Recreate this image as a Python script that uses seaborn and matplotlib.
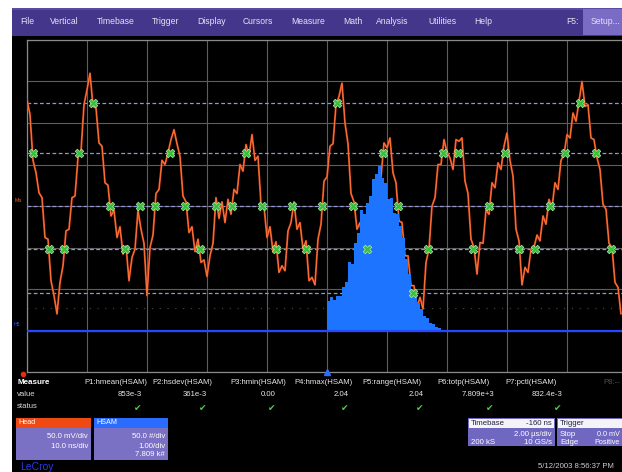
import numpy as np
import pandas as pd
import matplotlib
matplotlib.use("Agg")
import matplotlib.pyplot as plt
from matplotlib.patches import Rectangle
import seaborn as sns

# ---------------- data ----------------
# Trace "Head": samples every 0.1 us starting at -10 us (50 mV/div)
trace_mv = [
    128, 110, 55, 40, 16, 10, -38, -40, -90, -108,
    -130, -92, -72, -30, -28, 10, 12, 58, 66, 122,
    140, 160, 120, 118, 76, 72, 28, 25, -12, -5,
    -38, -25, -58, -48, -90, -62, -52, -5, -28, -45,
    -108, -50, -35, 15, 20, 55, 50, 64, 80, 92,
    75, 60, 12, 5, -32, -25, -55, -40, -68, -65,
    -85, -60, -45, 10, -15, 5, -20, 8, -10, 20,
    15, 50, 42, 74, 60, 86, 55, 60, 2, 0,
    -38, -25, -55, -43, -80, -72, -78, -30, -20, 5,
    -28, -20, -52, -42, -90, -86, -95, -40, -22, 30,
    35, 72, 75, 122, 132, 148, 100, 75, 15, 5,
    -28, -20, -50, -42, -66, -55, -30, 28, 35, 76,
    70, 82, 40, 28, -18, -20, -60, -60, -96, -96,
    -122, -110, -124, -68, -52, 0, 10, 50, 50, 80,
    65, 58, 44, 80, 78, 82, 30, 15, -40, -50,
    -82, -44, -45, -5, -10, 28, 22, 52, 44, 72,
    88, 55, 36, -28, -42, -95, -74, -80, -52, -50,
    -35, -42, -12, -22, 8, -2, 28, 20, 55, 62,
    86, 82, 112, 102, 126, 150, 120, 122, 82, 80,
    58, 44, 2, -4, -45, -50, -92, -98, -130,
]
trace_t0_us = -10.0
trace_dt_us = 0.1

# level-crossing markers (time us, level mV)
mark_t = [-9.8, -9.27, -8.77, -8.27, -7.8, -7.23, -6.73, -6.23, -5.73, -5.23,
          -4.73, -4.23, -3.7, -3.17, -2.7, -2.17, -1.7, -1.17, -0.7, -0.17,
          0.33, 0.87, 1.33, 1.87, 2.37, 2.87, 3.37, 3.87, 4.37, 4.87,
          5.4, 5.93, 6.4, 6.93, 7.43, 7.93, 8.43, 8.97, 9.47]
mark_v = [64, -52, -52, 64, 124, 0, -52, 0, 0, 64,
          0, -52, 0, 0, 64, 0, -52, 0, -52, 0,
          124, 0, -52, 64, 0, -105, -52, 64, 64, -52,
          0, 64, -52, -52, 0, 64, 124, 64, -52]
levels_mv = [124, 64, 0, -52, -105]

# HSAM histogram (counts per bin, bins of 0.1 div starting at trigger)
hist_counts = [36, 40, 37, 42, 41, 52, 58, 82, 80, 106, 118, 145, 140, 154, 162,
               182, 188, 198, 184, 178, 158, 160, 142, 140, 126, 112, 86, 68, 50,
               43, 33, 26, 17, 15, 9, 8, 4, 3, 1]

menu_items = ["File", "Vertical", "Timebase", "Trigger", "Display", "Cursors",
              "Measure", "Math", "Analysis", "Utilities", "Help"]
menu_x = [20, 50, 97, 152, 197, 243, 291, 343, 376, 428, 474]

meas_names = ["P1:hmean(HSAM)", "P2:hsdev(HSAM)", "P3:hmin(HSAM)", "P4:hmax(HSAM)",
              "P5:range(HSAM)", "P6:totp(HSAM)", "P7:pctl(HSAM)"]
meas_vals = ["853e-3", "361e-3", "0.00", "2.04", "2.04", "7.809e+3", "832.4e-3"]
meas_name_x = [84, 152, 230, 294, 362, 437, 505]
meas_val_x = [142, 207, 276, 349, 424, 494, 562]

# ---------------- figure ----------------
W, H = 622, 472
sns.set_style("dark")
plt.rcParams["font.family"] = ["Liberation Sans", "DejaVu Sans"]
fig = plt.figure(figsize=(W / 100, H / 100), dpi=100, facecolor="white")


def rect(x0, y0, x1, y1, color, z=-1):
    fig.add_artist(Rectangle((x0 / W, 1 - y1 / H), (x1 - x0) / W, (y1 - y0) / H,
                             transform=fig.transFigure, color=color, zorder=z, lw=0))


def txt(x, y, s, **kw):
    kw.setdefault("color", "white")
    kw.setdefault("fontsize", 5.6)
    kw.setdefault("va", "center")
    fig.text(x / W, 1 - y / H, s, **kw)


rect(12, 36, W, H, "black", z=-2)
rect(12, 8, W, 36, "#44368a", z=-1)
rect(12, 8, W, 10, "#5a4ca4", z=-1)
rect(583, 9, W, 35, "#7a6cc4", z=-1)
for s, x in zip(menu_items, menu_x):
    txt(x, 21, s, color="#e6e2f4", fontsize=6.2)
txt(566, 21, "F5:", color="#e6e2f4", fontsize=6.2)
txt(591, 21, "Setup...", color="#e6e2f4", fontsize=6.2)

# main grid axes: 10 div x 8 div, 2 us/div, 50 mV/div
ax = fig.add_axes([27 / W, 1 - 372 / H, 600 / W, 332 / H])
ax.set_facecolor("black")
ax.set_xlim(-10, 10)
ax.set_ylim(-200, 200)
ax.set_xticks(np.arange(-10, 11, 2))
ax.set_yticks(np.arange(-200, 201, 50))
ax.grid(True, color="#5e5e5e", lw=0.8)
ax.tick_params(length=0, labelbottom=False, labelleft=False)
for sp in ax.spines.values():
    sp.set_color("#8a8a8a")
    sp.set_linewidth(0.9)
ax.axhline(-123, color="#4a4a4a", lw=0.8, ls=(0, (1, 6)))
for lv in levels_mv:
    ax.axhline(lv, color="#9494d6", lw=0.9, ls=(0, (3, 2)), zorder=2)

t = trace_t0_us + trace_dt_us * np.arange(len(trace_mv))
trace_df = pd.DataFrame({"t": t, "mv": trace_mv})
sns.lineplot(data=trace_df, x="t", y="mv", ax=ax, color="#dc4418", lw=1.4,
             sort=False, estimator=None, zorder=3)
sns.lineplot(data=trace_df, x="t", y="mv", ax=ax, color="#ff8c48", lw=0.45,
             sort=False, estimator=None, zorder=3)
ax.set_xlabel("")
ax.set_ylabel("")

# histogram axis (50 #/div, baseline 3 div below centre)
ax2 = ax.twinx()
edges = [round(i * 0.1, 2) for i in range(len(hist_counts) + 1)]
hist_df = pd.DataFrame({"t": [e + 0.05 for e in edges[:-1]], "n": hist_counts})
sns.histplot(data=hist_df, x="t", weights="n", bins=edges, ax=ax2,
             color="#1c74ff", alpha=1, linewidth=0, element="bars")
ax2.set_ylim(-50, 350)
ax2.set_xlim(-10, 10)
ax2.axis("off")

# overlay: markers and HSAM baseline
ax3 = ax.twinx()
ax3.axhline(-150, color="#2848ff", lw=1.6)
mark_df = pd.DataFrame({"t": mark_t, "v": mark_v})
sns.scatterplot(data=mark_df, x="t", y="v", ax=ax3, marker="X", s=38,
                color="#38c038", edgecolor="#a8f0a8", linewidth=0.5, zorder=5)
ax3.set_ylim(-200, 200)
ax3.set_xlim(-10, 10)
ax3.plot([0], [-200], marker="^", color="#2a6cff", ms=5, clip_on=False)
ax3.plot([-10.15], [-202], marker="o", color="#e03010", ms=3, clip_on=False)
ax3.axis("off")

txt(15, 200, "Ma", color="#e06030", fontsize=3.8)
txt(14, 325, "H5", color="#3050ff", fontsize=3.8)

# ---------------- measurement panel ----------------
txt(17, 383, "Measure", fontweight="bold", fontsize=5.8)
txt(17, 395, "value", color="#d8d8d8")
txt(17, 407, "status", color="#d8d8d8")
for name, nx, val, vx in zip(meas_names, meas_name_x, meas_vals, meas_val_x):
    txt(nx, 383, name, color="#e8e8e8")
    txt(vx, 395, val, color="#e8e8e8", ha="right")
    txt(vx - 4, 408, "\u2714", color="#4cd04c", fontsize=6.5, ha="center",
        family=["DejaVu Sans"])
txt(620, 383, "P8:--", color="#505050", ha="right")

# channel boxes
rect(16, 418, 91, 460, "#7a70c4", z=1)
rect(16, 418, 91, 428, "#f04a14", z=1)
txt(18, 423, "Head", fontsize=5.2)
txt(88, 437, "50.0 mV/div", ha="right")
txt(88, 446, "10.0 ns/div", ha="right")
rect(94, 418, 168, 460, "#7a70c4", z=1)
rect(94, 418, 168, 428, "#2a6cff", z=1)
txt(96, 423, "HSAM", fontsize=5.2)
txt(165, 437, "50.0 #/div", ha="right")
txt(165, 446, "1.00/div", ha="right")
txt(165, 455, "7.809 k#", ha="right")

# timebase / trigger boxes
rect(468, 418, 555, 446, "#7068c0", z=1)
rect(469, 419, 554, 428, "#f4f4f8", z=1)
txt(471, 423.5, "Timebase", color="#202040")
txt(552, 423.5, "-160 ns", color="#202040", ha="right")
txt(552, 434, "2.00 \u00b5s/div", ha="right")
txt(471, 442, "200 kS")
txt(552, 442, "10 GS/s", ha="right")
rect(557, 418, W, 446, "#7068c0", z=1)
rect(558, 419, W, 428, "#f4f4f8", z=1)
txt(560, 423.5, "Trigger", color="#202040")
txt(560, 434, "Stop")
txt(560, 442, "Edge")
txt(620, 434, "0.0 mV", ha="right", fontsize=5.2)
txt(620, 442, "Positive", ha="right", fontsize=5.2)

txt(20, 467, "LeCroy", color="#2a3ce8", fontsize=7.5)
txt(538, 467, "5/12/2003 8:56:37 PM", color="#d0d0d0", fontsize=5.6)

fig.savefig("out.png", dpi=100, facecolor="white")
